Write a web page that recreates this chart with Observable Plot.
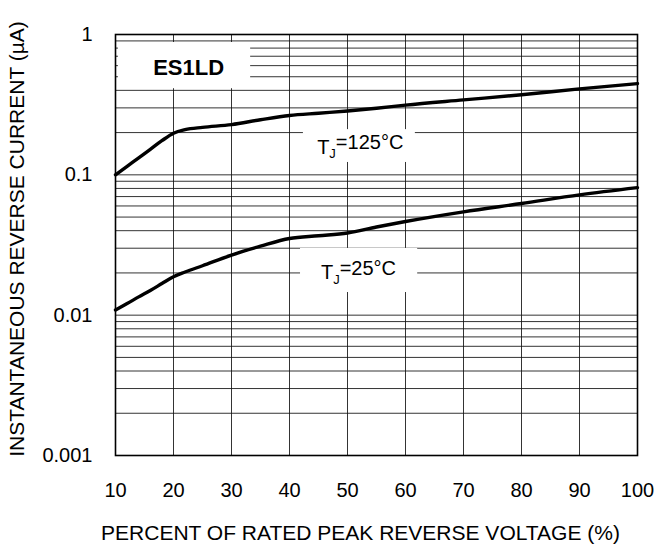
<!DOCTYPE html>
<html><head><meta charset="utf-8">
<script src="https://cdn.jsdelivr.net/npm/d3@7"></script>
<script src="https://cdn.jsdelivr.net/npm/@observablehq/plot@0.6"></script>
<style>
body{margin:0;background:#fff}
svg{font-family:Arial,"Liberation Sans",sans-serif}
</style>
</head><body><div id="chart"></div>
<script>
// Percent of rated peak reverse voltage
const voltagePct = [10, 12, 14, 16, 18, 20, 22, 25, 30, 35, 40, 45, 50, 55, 60, 70, 80, 90, 100];
// Instantaneous reverse current (µA), TJ = 125 °C
const current125 = [0.1, 0.115, 0.132, 0.152, 0.175, 0.198, 0.21, 0.218, 0.228, 0.247, 0.265, 0.275, 0.285, 0.298, 0.314, 0.342, 0.372, 0.41, 0.447];
// Instantaneous reverse current (µA), TJ = 25 °C
const current25 = [0.0109, 0.0121, 0.0135, 0.015, 0.0168, 0.0188, 0.0203, 0.0225, 0.0268, 0.031, 0.0352, 0.0368, 0.0385, 0.0425, 0.0465, 0.0545, 0.0625, 0.072, 0.081];

const xTicks = [10, 20, 30, 40, 50, 60, 70, 80, 90, 100];
const yTicks = [0.001, 0.01, 0.1, 1];
const yTickLabels = ["0.001", "0.01", "0.1", "1"];

const partName = "ES1LD";
const seriesLabels = ["TJ=125°C", "TJ=25°C"];
const xTitle = "PERCENT OF RATED PEAK REVERSE VOLTAGE (%)";
const yTitle = "INSTANTANEOUS REVERSE CURRENT (µA)";

// annotation anchors (data units)
const labelX = [22.6, 52.2, 51.9];
const labelY = [0.573, 0.157, 0.0201];
const boxX1 = [10.5, 42.4, 41.9];
const boxX2 = [33.3, 61.7, 62.1];
const boxY1 = [0.877, 0.21, 0.0299];
const boxY2 = [0.411, 0.1225, 0.0145];

const rows = [];
voltagePct.forEach((v, i) => {
  rows.push({v, c: current125[i], s: seriesLabels[0]});
  rows.push({v, c: current25[i], s: seriesLabels[1]});
});
const labelText = [partName, ...seriesLabels];
const labels = labelText.map((t, i) => ({t, x: labelX[i], y: labelY[i], x1: boxX1[i], x2: boxX2[i], y1: boxY1[i], y2: boxY2[i]}));
const gridY = d3.scaleLog().domain([0.001, 1]).ticks();
const tickLabelMap = new Map(yTicks.map((d, i) => [d, yTickLabels[i]]));

const chart = Plot.plot({
  width: 657,
  height: 554,
  marginLeft: 115,
  marginRight: 20,
  marginTop: 34,
  marginBottom: 99,
  style: {fontFamily: "Arial, 'Liberation Sans', sans-serif", fontSize: "20px", color: "#000", background: "#fff"},
  x: {domain: [10, 100]},
  y: {type: "log", domain: [0.001, 1]},
  marks: [
    Plot.ruleY(gridY, {stroke: "#111", strokeWidth: 1, strokeOpacity: 0.85}),
    Plot.ruleX(xTicks, {stroke: "#111", strokeWidth: 1, strokeOpacity: 0.85}),
    Plot.rect(labels, {x1: "x1", x2: "x2", y1: "y1", y2: "y2", fill: "white"}),
    Plot.line(rows, {x: "v", y: "c", z: "s", stroke: "black", strokeWidth: 3.4, curve: "monotone-x"}),
    Plot.text(labels.slice(0, 1), {x: "x", y: "y", text: "t", fontSize: 22, fontWeight: "bold", fill: "black"}),
    Plot.text(labels.slice(1), {x: "x", y: "y", text: "t", fontSize: 20, fill: "black", className: "tj"}),
    Plot.axisX({ticks: xTicks, tickSize: 0, tickPadding: 27, label: null, fontSize: 20}),
    Plot.axisY({ticks: yTicks, tickSize: 0, tickPadding: 23, label: null, tickFormat: d => tickLabelMap.get(d), fontSize: 20}),
    Plot.text([xTitle], {frameAnchor: "bottom", dx: -16, dy: 84, fontSize: 21, fill: "black"}),
    Plot.text([yTitle], {frameAnchor: "left", textAnchor: "middle", dx: -98, dy: -6, rotate: -90, fontSize: 21, fill: "black"}),
    Plot.frame({stroke: "black", strokeWidth: 1.6})
  ]
});

// render the J of TJ as a subscript
chart.querySelectorAll("g.tj text").forEach(t => {
  const s = t.textContent;
  if (!s.startsWith("TJ")) return;
  t.textContent = "";
  const ns = "http://www.w3.org/2000/svg";
  const a = document.createElementNS(ns, "tspan"); a.textContent = "T";
  const b = document.createElementNS(ns, "tspan"); b.textContent = "J"; b.setAttribute("dy", "0.35em"); b.setAttribute("font-size", "13");
  const c = document.createElementNS(ns, "tspan"); c.textContent = s.slice(2); c.setAttribute("dy", "-0.45em");
  t.append(a, b, c);
});
document.getElementById("chart").append(chart);
</script>
</body></html>
